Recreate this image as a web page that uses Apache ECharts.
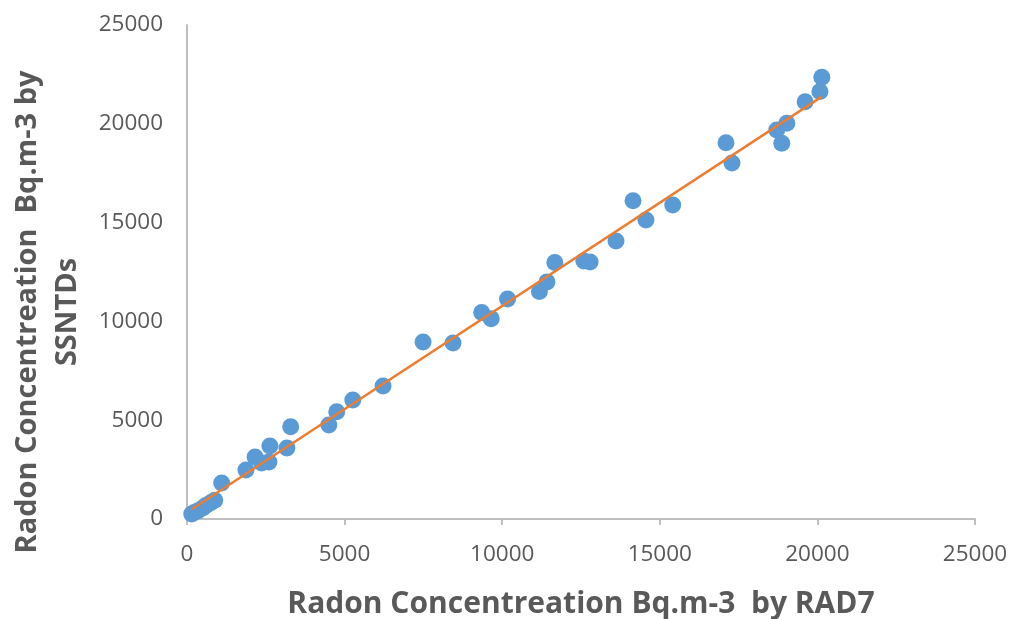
<!DOCTYPE html>
<html>
<head>
<meta charset="utf-8">
<script src="https://cdn.jsdelivr.net/npm/echarts@6/dist/echarts.min.js"></script>
<style>html,body{margin:0;padding:0;background:#fff}#c{width:1009px;height:619px}</style>
</head>
<body>
<div id="c"></div>
<script>
var rad7 = [150, 230, 350, 500, 600, 750, 880, 1100, 1870, 2160, 2370, 2600, 2630, 3170, 3290, 4500, 4750, 5260, 6220, 7490, 8440, 9350, 9650, 10170, 11180, 11420, 11670, 12590, 12790, 13610, 14150, 14560, 15410, 17100, 17290, 18710, 18870, 19030, 19610, 20080, 20140];
var ssntd = [250, 330, 420, 560, 680, 820, 950, 1820, 2480, 3140, 2830, 2890, 3700, 3590, 4670, 4760, 5430, 6020, 6730, 8960, 8910, 10450, 10140, 11130, 11510, 12000, 12980, 13060, 13010, 14070, 16110, 15130, 15890, 19040, 18020, 19690, 19010, 20030, 21120, 21630, 22360];
var axisTicks = [0, 5000, 10000, 15000, 20000, 25000];

var pts = rad7.map(function (x, i) { return [x, ssntd[i]]; });
// least-squares trend line
var n = rad7.length, sx = 0, sy = 0, sxx = 0, sxy = 0;
for (var i = 0; i < n; i++) { sx += rad7[i]; sy += ssntd[i]; sxx += rad7[i] * rad7[i]; sxy += rad7[i] * ssntd[i]; }
var slope = (n * sxy - sx * sy) / (n * sxx - sx * sx);
var icpt = (sy - slope * sx) / n;
var xmin = Math.min.apply(null, rad7), xmax = Math.max.apply(null, rad7);
var trend = [[xmin, slope * xmin + icpt], [xmax, slope * xmax + icpt]];

var gray = '#595959';
var fmt = function (v) { return String(v); };
var chart = echarts.init(document.getElementById('c'));
chart.setOption({
  animation: false,
  grid: { left: 187, right: 34, top: 25, bottom: 100, containLabel: false, outerBoundsMode: 'none' },
  xAxis: {
    type: 'value', min: axisTicks[0], max: axisTicks[axisTicks.length - 1], interval: 5000,
    name: 'Radon Concentreation Bq.m-3  by RAD7',
    nameLocation: 'middle', nameGap: 70,
    nameTextStyle: { color: gray, fontSize: 30, fontWeight: 'bold', fontFamily: 'Open Sans' },
    axisLine: { lineStyle: { color: '#bfbfbf', width: 2 } },
    axisTick: { show: true, length: 6, lineStyle: { color: '#bfbfbf', width: 2 } },
    splitLine: { show: false },
    axisLabel: { color: gray, fontSize: 22.5, fontFamily: 'Open Sans', margin: 24, formatter: fmt }
  },
  yAxis: {
    type: 'value', min: axisTicks[0], max: axisTicks[axisTicks.length - 1], interval: 5000,
    name: 'Radon Concentreation  Bq.m-3 by\nSSNTDs',
    nameLocation: 'middle', nameGap: 93,
    nameTextStyle: { color: gray, fontSize: 29, fontWeight: 'bold', fontFamily: 'Open Sans', lineHeight: 40, padding: [0, 80, 0, 0] },
    axisLine: { show: true, lineStyle: { color: '#bfbfbf', width: 2 } },
    axisTick: { show: false },
    splitLine: { show: false },
    axisLabel: { color: gray, fontSize: 22.5, fontFamily: 'Open Sans', margin: 24, formatter: fmt }
  },
  series: [
    { type: 'scatter', data: pts, symbolSize: 17, itemStyle: { color: '#5B9BD5', opacity: 1 }, z: 2 },
    { type: 'line', data: trend, symbol: 'none', lineStyle: { color: '#ED7D31', width: 2.5 }, z: 3 }
  ]
});
</script>
</body>
</html>
